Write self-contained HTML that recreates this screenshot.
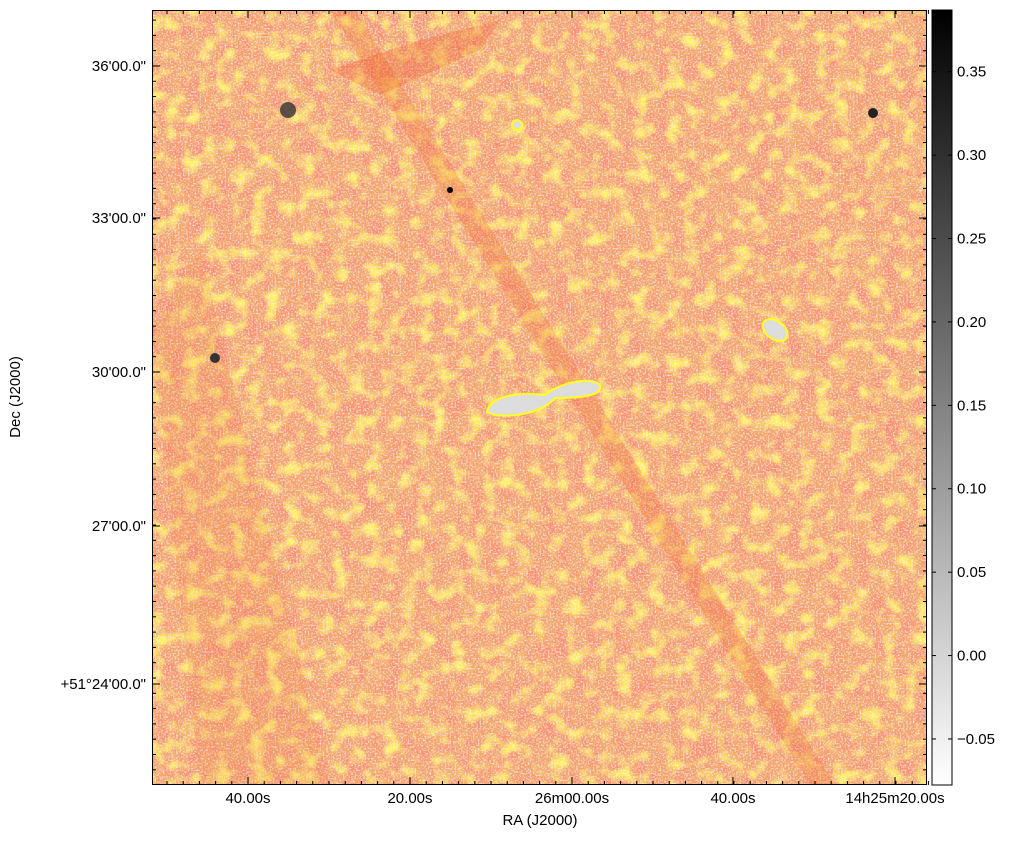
<!DOCTYPE html>
<html><head><meta charset="utf-8"><style>
body{margin:0;background:#fff;font-family:"Liberation Sans",sans-serif}
svg text{font-family:"Liberation Sans",sans-serif;font-size:15px;fill:#000}
</style></head><body>
<svg id="c" width="1018" height="837">
<defs>
<filter id="tex" x="0" y="0" width="100%" height="100%">
<feTurbulence type="fractalNoise" baseFrequency="0.07 0.05" numOctaves="2" seed="3" result="n1"/>
<feColorMatrix in="n1" type="matrix" values="0 0 0 0 0.93  0 0 0 0 0.28  0 0 0 0 0.15  3.2 0 0 0 -1.3" result="red"/>
<feTurbulence type="fractalNoise" baseFrequency="0.06 0.065" numOctaves="2" seed="9" result="n2"/>
<feColorMatrix in="n2" type="matrix" values="0 0 0 0 1  0 0 0 0 0.85  0 0 0 0 0.1  0 3.2 0 0 -1.55" result="yel"/>
<feTurbulence type="fractalNoise" baseFrequency="0.6" numOctaves="1" seed="5" result="n3"/>
<feColorMatrix in="n3" type="matrix" values="0 0 0 0 0.95  0 0 0 0 0.93  0 0 0 0 0.92  0 0 2.2 0 -1.0" result="wh"/>
<feMerge><feMergeNode in="SourceGraphic"/><feMergeNode in="red"/><feMergeNode in="yel"/><feMergeNode in="wh"/></feMerge>
</filter>
<linearGradient id="cb" x1="0" y1="1" x2="0" y2="0"><stop offset="0" stop-color="#fff"/><stop offset="1" stop-color="#000"/></linearGradient>
<clipPath id="pc"><rect x="152" y="10" width="775" height="775"/></clipPath>
</defs>
<g clip-path="url(#pc)">
<rect x="152" y="10" width="775" height="775" fill="#f3a466" filter="url(#tex)"/>
<polygon points="330,10 355,10 835,785 810,785" fill="#ee5a20" opacity="0.2"/>
<polygon points="152,330 200,250 330,785 200,785" fill="#ee6020" opacity="0.1"/>
<polygon points="330,70 420,40 500,20 480,50 380,95" fill="#ee4010" opacity="0.22"/>
<path d="M487,412 C490,395 520,392 545,395 C555,385 590,375 600,385 C603,395 585,398 555,398 C545,410 520,418 495,415 Z" fill="#ddd" stroke="#ff2" stroke-width="2"/>
<ellipse cx="775" cy="330" rx="14" ry="9" fill="#ddd" stroke="#ff2" stroke-width="2" transform="rotate(35 775 330)"/>
<circle cx="517" cy="125" r="5" fill="#ddd" stroke="#ff2" stroke-width="2"/>
<circle cx="288" cy="110" r="8" fill="#333" opacity="0.8"/>
<circle cx="873" cy="113" r="5" fill="#222"/>
<circle cx="215" cy="358" r="5" fill="#333"/>
<circle cx="450" cy="190" r="3" fill="#000"/>
</g>
<rect x="152.5" y="10.5" width="774" height="774" fill="none" stroke="#000"/>
<g id="axes"></g>
<rect x="932" y="10" width="20" height="775" fill="url(#cb)" stroke="#000"/>
<g id="cbt"></g>
<text x="540" y="825" text-anchor="middle">RA (J2000)</text>
<text transform="translate(20 397) rotate(-90)" text-anchor="middle">Dec (J2000)</text>
</svg>
<script>
const cbTicks=[0.35,0.30,0.25,0.20,0.15,0.10,0.05,0.00,-0.05];
const cbMin=-0.0776, cbMax=0.387;
const xLabels=["40.00s","20.00s","26m00.00s","40.00s","14h25m20.00s"];
const xPos=[248,410,572,733,895];
const yLabels=["36'00.0\"","33'00.0\"","30'00.0\"","27'00.0\"","+51°24'00.0\""];
const yPos=[66,218,372,526,684];
const NS="http://www.w3.org/2000/svg";
function mk(t,a,p){const e=document.createElementNS(NS,t);for(const k in a)e.setAttribute(k,a[k]);p.appendChild(e);return e;}
const ax=document.getElementById('axes'),cb=document.getElementById('cbt');
const cy=v=>785-(v-cbMin)/(cbMax-cbMin)*775;
cbTicks.forEach(v=>{
 const y=cy(v);
 const l=mk('line',{x1:932,x2:936,y1:y,y2:y,stroke:'#000'},cb);
 
 
 mk('line',{x1:948,x2:952,y1:y,y2:y,stroke:'#000'},cb);
 const t=mk('text',{x:957,y:y+5},cb);t.textContent=(v<0?'\u2212':'')+Math.abs(v).toFixed(2);
 
 
});
xPos.forEach((x,i)=>{
 mk('line',{x1:x,x2:x,y1:785,y2:777,stroke:'#000'},ax);
 mk('line',{x1:x,x2:x,y1:10,y2:18,stroke:'#000'},ax);
 const t=mk('text',{x:x,y:803,'text-anchor':'middle'},ax);t.textContent=xLabels[i];
 
 
});
for(let x=xPos[0]-162;x<930;x+=16.2){if(x>152){mk('line',{x1:x,x2:x,y1:785,y2:781,stroke:'#000'},ax);mk('line',{x1:x,x2:x,y1:10,y2:14,stroke:'#000'},ax);}}
yPos.forEach((y,i)=>{
 mk('line',{x1:152,x2:160,y1:y,y2:y,stroke:'#000'},ax);
 mk('line',{x1:919,x2:927,y1:y,y2:y,stroke:'#000'},ax);
 const t=mk('text',{x:146,y:y+5,'text-anchor':'end'},ax);t.textContent=yLabels[i];
 
 
});
for(let y=yPos[0]-153;y<785;y+=15.3){if(y>10){mk('line',{x1:152,x2:156,y1:y,y2:y,stroke:'#000'},ax);mk('line',{x1:923,x2:927,y1:y,y2:y,stroke:'#000'},ax);}}
</script>
</body></html>
